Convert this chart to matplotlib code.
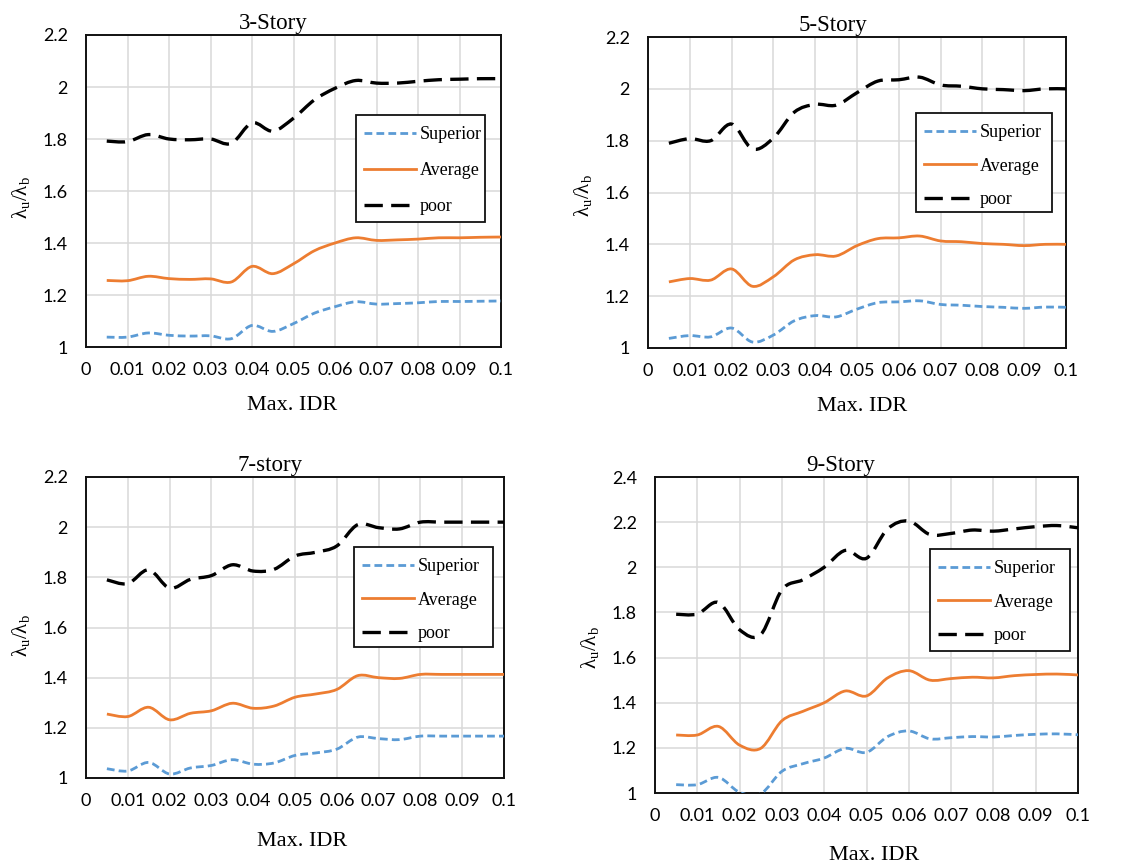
"""Ratio of collapse rates lambda_u / lambda_b against maximum IDR
for 3, 5, 7 and 9 storey frames, three construction quality levels.
"""
# pylint: disable=C0103
import matplotlib
matplotlib.use('Agg')
import matplotlib.pyplot as plt
from matplotlib.lines import Line2D
from matplotlib.patches import PathPatch, Rectangle
from matplotlib.path import Path

plt.rcParams['mathtext.fontset'] = 'custom'
plt.rcParams['mathtext.rm'] = 'Liberation Serif'
plt.rcParams['mathtext.it'] = 'Liberation Serif:italic'

SERIF = 'Liberation Serif'
SANS = 'Lato'

# Max. IDR sample points
idr = [0.005, 0.010, 0.015, 0.020, 0.025, 0.030, 0.035, 0.040, 0.045, 0.050,
       0.055, 0.060, 0.065, 0.070, 0.075, 0.080, 0.085, 0.090, 0.095, 0.100]

# 3-Story
s3_superior = [1.038, 1.038, 1.054, 1.045, 1.042, 1.043, 1.032, 1.083, 1.060, 1.090,
               1.130, 1.155, 1.174, 1.165, 1.167, 1.170, 1.175, 1.175, 1.176, 1.177]
s3_average = [1.256, 1.255, 1.272, 1.263, 1.260, 1.262, 1.250, 1.310, 1.282, 1.320,
              1.370, 1.400, 1.420, 1.410, 1.412, 1.415, 1.420, 1.420, 1.422, 1.423]
s3_poor = [1.792, 1.790, 1.817, 1.800, 1.797, 1.800, 1.783, 1.862, 1.830, 1.880,
           1.950, 1.995, 2.025, 2.015, 2.015, 2.022, 2.028, 2.030, 2.032, 2.032]

# 5-Story
s5_superior = [1.037, 1.048, 1.043, 1.077, 1.023, 1.050, 1.105, 1.125, 1.120, 1.150,
               1.175, 1.178, 1.182, 1.168, 1.165, 1.160, 1.157, 1.153, 1.158, 1.157]
s5_average = [1.255, 1.268, 1.262, 1.305, 1.238, 1.275, 1.340, 1.360, 1.355, 1.395,
              1.422, 1.425, 1.432, 1.413, 1.410, 1.403, 1.400, 1.395, 1.400, 1.400]
s5_poor = [1.790, 1.808, 1.800, 1.864, 1.768, 1.810, 1.910, 1.940, 1.937, 1.985,
           2.030, 2.035, 2.045, 2.015, 2.010, 2.000, 1.997, 1.993, 2.000, 2.000]

# 7-story
s7_superior = [1.037, 1.028, 1.062, 1.016, 1.040, 1.050, 1.073, 1.055, 1.060, 1.090,
               1.100, 1.115, 1.163, 1.157, 1.153, 1.167, 1.167, 1.167, 1.167, 1.167]
s7_average = [1.255, 1.245, 1.282, 1.232, 1.258, 1.268, 1.298, 1.278, 1.287, 1.322,
              1.335, 1.353, 1.408, 1.400, 1.397, 1.413, 1.413, 1.413, 1.413, 1.413]
s7_poor = [1.790, 1.775, 1.830, 1.757, 1.792, 1.807, 1.850, 1.825, 1.832, 1.885,
           1.900, 1.925, 2.010, 1.998, 1.993, 2.020, 2.020, 2.020, 2.020, 2.020]

# 9-Story
s9_superior = [1.037, 1.037, 1.069, 1.003, 0.997, 1.096, 1.130, 1.155, 1.198, 1.180,
               1.250, 1.275, 1.240, 1.245, 1.250, 1.248, 1.255, 1.260, 1.262, 1.258]
s9_average = [1.257, 1.257, 1.295, 1.212, 1.198, 1.320, 1.362, 1.400, 1.452, 1.430,
              1.510, 1.542, 1.500, 1.507, 1.513, 1.510, 1.520, 1.525, 1.527, 1.523]
s9_poor = [1.792, 1.793, 1.844, 1.723, 1.702, 1.900, 1.945, 2.000, 2.075, 2.040,
           2.170, 2.205, 2.145, 2.150, 2.165, 2.160, 2.170, 2.180, 2.185, 2.175]

titles = ['3-Story', '5-Story', '7-story', '9-Story']
series = [
    (s3_superior, s3_average, s3_poor),
    (s5_superior, s5_average, s5_poor),
    (s7_superior, s7_average, s7_poor),
    (s9_superior, s9_average, s9_poor),
]
y_tops = [2.2, 2.2, 2.2, 2.4]

labels = ['Superior', 'Average', 'poor']
styles = [
    dict(color='#5B9BD5', lw=2.0, linestyle=(0, (2.8, 1.5))),
    dict(color='#ED7D31', lw=2.0, linestyle='-'),
    dict(color='#000000', lw=2.4, linestyle=(0, (5.5, 2.5))),
]

# axes boxes in pixels: left, top, right, bottom
W, H = 1145, 866
boxes = [(86, 35, 501, 347), (648, 37, 1066, 348),
         (86, 477, 504, 778), (655, 477, 1078, 793)]
# title / axis label placement in axes fractions
title_x = [0.45, 0.443, 0.44, 0.44]
xlabel_x = [0.496, 0.512, 0.517, 0.518]
ylabel_y = [0.478, 0.49, 0.475, 0.46]
# legend frames in pixels: left, top, right, bottom
legend_boxes = [(356, 115, 485, 222), (916, 113, 1052, 212),
                (354, 547, 493, 647), (930, 549, 1070, 651)]
legend_spacing = [1.06, 0.92, 0.92, 0.92]


def px(x, y):
    return x / W, 1 - y / H


def smooth_path(x, y):
    """Bezier path through the points, Excel-style smoothed line."""
    verts = [(x[0], y[0])]
    codes = [Path.MOVETO]
    n = len(x)
    for i in range(n - 1):
        a = i - 1 if i > 0 else i
        d = i + 2 if i + 2 < n else i + 1
        c1 = (x[i] + (x[i + 1] - x[a]) / 6, y[i] + (y[i + 1] - y[a]) / 6)
        c2 = (x[i + 1] - (x[d] - x[i]) / 6, y[i + 1] - (y[d] - y[i]) / 6)
        verts += [c1, c2, (x[i + 1], y[i + 1])]
        codes += [Path.CURVE4] * 3
    return Path(verts, codes)


fig = plt.figure(figsize=(W / 100, H / 100), dpi=100)

for k in range(4):
    l, t, r, b = boxes[k]
    x0, y0 = px(l, b)
    ax = fig.add_axes([x0, y0, (r - l) / W, (b - t) / H])

    for vals, st in zip(series[k], styles):
        ax.add_patch(PathPatch(smooth_path(idr, vals), fill=False,
                               edgecolor=st['color'], lw=st['lw'],
                               linestyle=st['linestyle'], capstyle='butt',
                               zorder=3))

    ax.set_xlim(0, 0.1)
    ax.set_ylim(1, y_tops[k])
    xt = [i / 100 for i in range(11)]
    ax.set_xticks(xt)
    ax.set_xticklabels(['0'] + ['%g' % v for v in xt[1:]])
    yt = [1 + 0.2 * i for i in range(int(round((y_tops[k] - 1) / 0.2)) + 1)]
    ax.set_yticks(yt)
    ax.set_yticklabels(['%g' % round(v, 1) for v in yt])
    ax.tick_params(length=0, labelsize=13)
    ax.tick_params(axis='x', pad=11)
    ax.tick_params(axis='y', pad=13)
    for lab in ax.get_xticklabels() + ax.get_yticklabels():
        lab.set_fontfamily(SANS)
    ax.grid(True, color='#d9d9d9', lw=1.1)
    ax.set_axisbelow(True)
    for sp in ax.spines.values():
        sp.set_linewidth(1.4)
        sp.set_color('#111111')

    ax.set_title(titles[k], family=SERIF, fontsize=16.5, pad=4, x=title_x[k])
    ax.set_xlabel('Max. IDR', family=SERIF, fontsize=16, x=xlabel_x[k],
                  labelpad=13 if k < 2 else 16)
    ax.set_ylabel(r'λ$_\mathrm{u}$/λ$_\mathrm{b}$', family=SERIF,
                  fontsize=15, labelpad=8, y=ylabel_y[k])

    # legend: white frame plus entries
    bl, bt, br, bb = legend_boxes[k]
    fx, fy = px(bl, bb)
    ax.add_patch(Rectangle((fx, fy), (br - bl) / W, (bb - bt) / H,
                           transform=fig.transFigure, facecolor='white',
                           edgecolor='#111111', lw=1.3, clip_on=False,
                           zorder=4))
    handles = [Line2D([], [], color=st['color'], lw=st['lw'],
                      linestyle=st['linestyle']) for st in styles]
    ax.legend(handles, labels, loc='upper left',
              bbox_to_anchor=px(bl + 8, bt + 11),
              bbox_transform=fig.transFigure,
              prop={'family': SERIF, 'size': 13},
              handlelength=2.9, handletextpad=0.2,
              labelspacing=legend_spacing[k], borderpad=0, borderaxespad=0,
              frameon=False)

plt.savefig('out.png', dpi=100)
